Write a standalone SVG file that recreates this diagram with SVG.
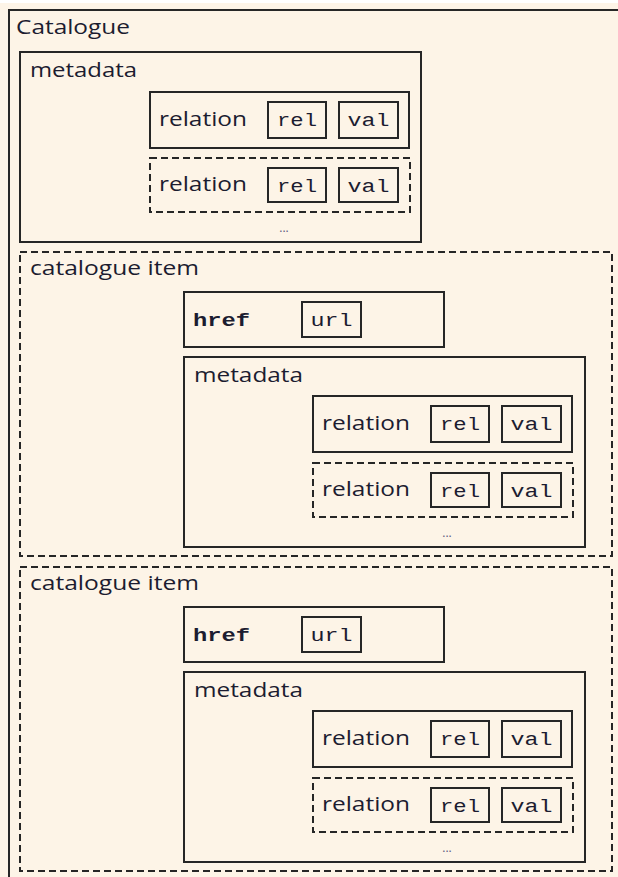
<svg xmlns="http://www.w3.org/2000/svg" width="618" height="877" viewBox="0 0 618 877">
<style>
.box{fill:none;stroke:#262626;stroke-width:2}
.dash{fill:none;stroke:#262626;stroke-width:2;stroke-dasharray:7 4}
.sans{font-family:"Open Sans","Noto Sans",sans-serif;font-size:20px;fill:#1c1c30}
.mono{font-family:"Liberation Mono","DejaVu Sans Mono",monospace;font-size:19px;fill:#1c1c30;text-anchor:middle}
.bold{font-family:"Liberation Mono","DejaVu Sans Mono",monospace;font-size:19px;font-weight:bold;fill:#1c1c30}
.dots{font-family:"Open Sans","Noto Sans",sans-serif;font-size:12px;fill:#5a5a80;text-anchor:middle}
</style>
<defs>
<g id="relSolid">
<rect class="box" x="0" y="0" width="259" height="56"/>
<text class="sans" x="9" y="34" textLength="88" lengthAdjust="spacingAndGlyphs">relation</text>
<rect class="box" x="118" y="10" width="58" height="36"/>
<text class="mono" x="147" y="34" textLength="40" lengthAdjust="spacingAndGlyphs">rel</text>
<rect class="box" x="189" y="10" width="59" height="36"/>
<text class="mono" x="218.5" y="34" textLength="42" lengthAdjust="spacingAndGlyphs">val</text>
</g>
<g id="relDashed">
<rect class="dash" x="0" y="0" width="260" height="54"/>
<text class="sans" x="9" y="33" textLength="88" lengthAdjust="spacingAndGlyphs">relation</text>
<rect class="box" x="118" y="10" width="58" height="34"/>
<text class="mono" x="147" y="34" textLength="40" lengthAdjust="spacingAndGlyphs">rel</text>
<rect class="box" x="189" y="10" width="59" height="34"/>
<text class="mono" x="218.5" y="34" textLength="42" lengthAdjust="spacingAndGlyphs">val</text>
</g>
<g id="itemBody">
<rect class="dash" x="20" y="252" width="592" height="304"/>
<text class="sans" x="30" y="275" textLength="169" lengthAdjust="spacingAndGlyphs">catalogue item</text>
<rect class="box" x="184" y="292" width="260" height="55"/>
<text class="bold" x="193" y="326" textLength="57" lengthAdjust="spacingAndGlyphs">href</text>
<rect class="box" x="302" y="302" width="59" height="35"/>
<text class="mono" x="331.5" y="326" textLength="42" lengthAdjust="spacingAndGlyphs">url</text>
<rect class="box" x="184" y="357" width="401" height="190"/>
<text class="sans" x="194" y="382" textLength="109" lengthAdjust="spacingAndGlyphs">metadata</text>
<use href="#relSolid" x="313" y="396"/>
<use href="#relDashed" x="313" y="463"/>
<text class="dots" x="447" y="537">...</text>
</g>
</defs>
<rect x="0" y="0" width="618" height="877" fill="#ffffff"/>
<rect x="0" y="3" width="618" height="874" fill="#fdf4e7"/>
<g id="catalogue">
<rect class="box" x="9" y="10" width="630" height="890"/>
<text class="sans" x="16" y="34" textLength="114" lengthAdjust="spacingAndGlyphs">Catalogue</text>
</g>
<g id="metadata">
<rect class="box" x="20" y="52" width="401" height="190"/>
<text class="sans" x="30" y="77" textLength="107" lengthAdjust="spacingAndGlyphs">metadata</text>
<use href="#relSolid" x="150" y="92"/>
<use href="#relDashed" x="150" y="158"/>
<text class="dots" x="284" y="232">...</text>
</g>
<g id="catalogue-item-1">
<use href="#itemBody"/>
</g>
<g id="catalogue-item-2">
<use href="#itemBody" y="315"/>
</g>
<g id="connectors"/>
</svg>
